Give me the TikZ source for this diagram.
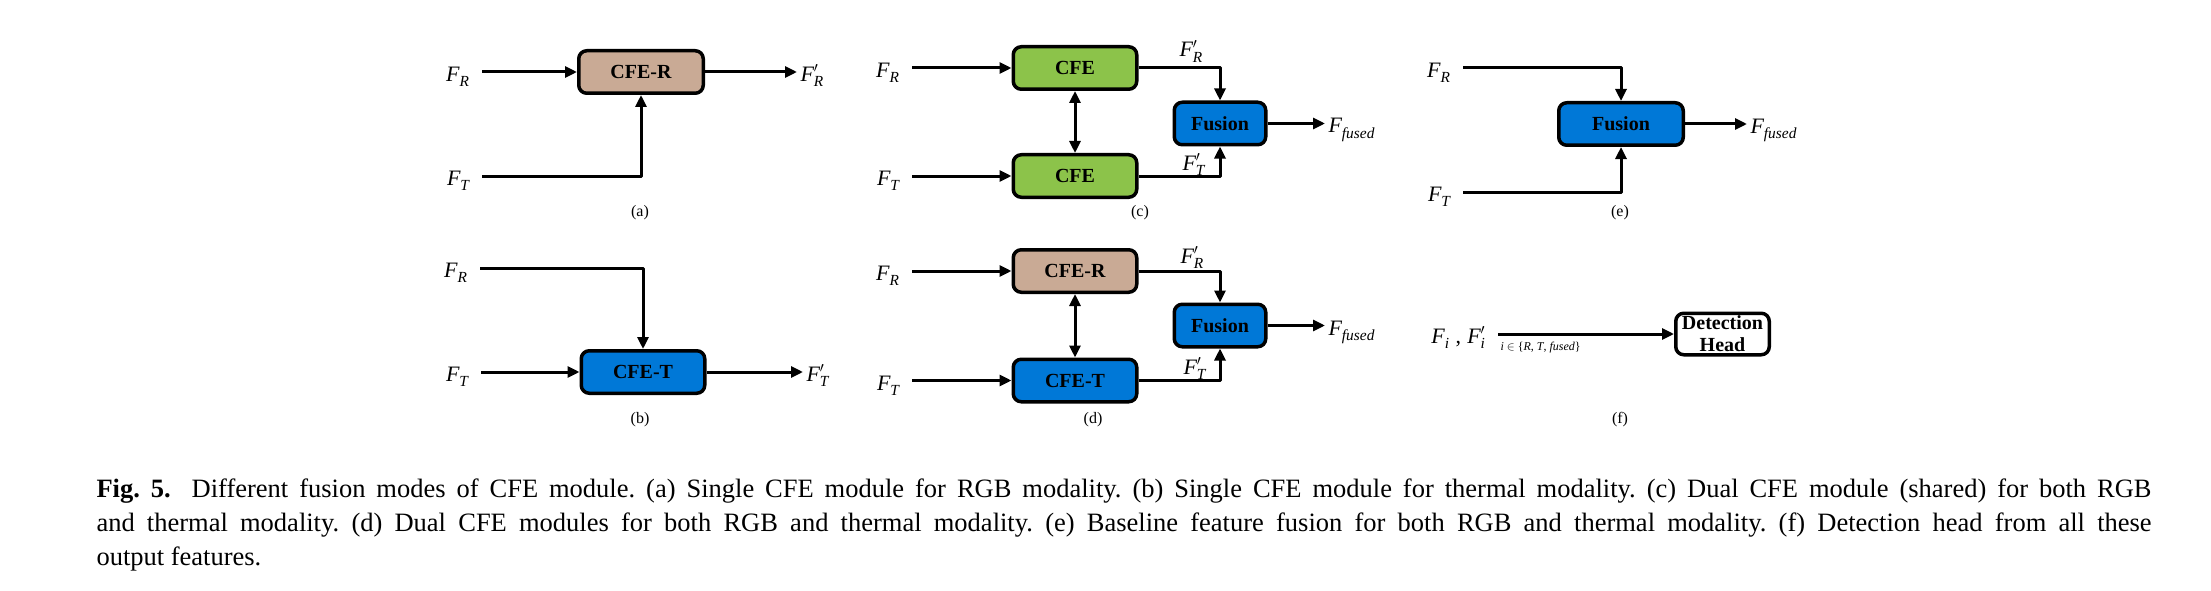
\documentclass[tikz,border=0pt]{standalone}
\usepackage{amsmath}
\usepackage{fontspec}
\setmainfont{Liberation Serif}
\usetikzlibrary{arrows.meta}
\definecolor{cferC}{RGB}{201,170,149}
\definecolor{cfeC}{RGB}{140,195,74}
\definecolor{cfetC}{RGB}{0,120,215}
\newcommand{\feat}[2][]{$\textit{F}^{#1}_{\textit{#2}}$}
\frenchspacing
\begin{document}
\begin{tikzpicture}[x=1pt, y=-1pt, line width=3pt, line join=round, >={Triangle[length=12pt,width=11pt]},
  box/.style={draw, line width=3.5pt, rounded corners=8pt, minimum height=42.5pt, inner sep=2pt, font=\fontsize{20}{22}\selectfont\bfseries},
  srclbl/.style={font=\fontsize{22}{26}\selectfont, text height=19pt, text depth=0pt, inner xsep=11pt, inner ysep=0pt},
  dstlbl/.style={srclbl, inner xsep=2pt},
  sublbl/.style={font=\fontsize{16}{19}\selectfont}]
\useasboundingbox (0,0) rectangle (2211,591);
% (a)
\node[box, fill=cferC, minimum width=124.5pt] (cfer_a) at (641,72) {CFE-R};
\node[srclbl, anchor=east] (fr_a) at (482,72) {\feat{R}};
\node[srclbl, anchor=east] (ft_a) at (482,176) {\feat{T}};
\node[dstlbl, anchor=west] (fro_a) at (797,72) {\feat[\prime]{R}};
\draw[->] (fr_a.east) -- (cfer_a.west);
\draw[->] (cfer_a.east) -- (fro_a.west);
\draw[->] (ft_a.east) -| (cfer_a.south);
\node[sublbl] (lbl_a) at (640,213) {(a)};
% (b)
\node[box, fill=cfetC, minimum width=123.5pt] (cfet_b) at (643,372) {CFE-T};
\node[srclbl, anchor=east] (fr_b) at (480,268) {\feat{R}};
\node[srclbl, anchor=east] (ft_b) at (481,372) {\feat{T}};
\node[dstlbl, anchor=west] (fto_b) at (803,372) {\feat[\prime]{T}};
\draw[->] (fr_b.east) -| (cfet_b.north);
\draw[->] (ft_b.east) -- (cfet_b.west);
\draw[->] (cfet_b.east) -- (fto_b.west);
\node[sublbl] (lbl_b) at (640,420) {(b)};
% (c)
\node[box, fill=cfeC, minimum width=123.5pt] (cfe_c1) at (1075,68) {CFE};
\node[box, fill=cfeC, minimum width=123.5pt] (cfe_c2) at (1075,176) {CFE};
\node[box, fill=cfetC, minimum width=91.5pt] (fus_c) at (1220,123.5) {Fusion};
\node[srclbl, anchor=east] (fr_c) at (912,68) {\feat{R}};
\node[srclbl, anchor=east] (ft_c) at (912,176) {\feat{T}};
\node[dstlbl, anchor=west] (ff_c) at (1325,123.5) {\feat{fused}};
\node[dstlbl, anchor=base west] (fro_c) at (1176,57) {\feat[\prime]{R}};
\node[dstlbl, anchor=base west] (fto_c) at (1179,170) {\feat[\prime]{T}};
\draw[->] (fr_c.east) -- (cfe_c1.west);
\draw[->] (ft_c.east) -- (cfe_c2.west);
\draw[<->] (cfe_c1) -- (cfe_c2);
\draw[->] (cfe_c1.east) -| (fus_c.north);
\draw[->] (cfe_c2.east) -| (fus_c.south);
\draw[->] (fus_c.east) -- (ff_c.west);
\node[sublbl] (lbl_c) at (1140,213) {(c)};
% (d)
\node[box, fill=cferC, minimum width=123.5pt] (cfer_d) at (1075,271) {CFE-R};
\node[box, fill=cfetC, minimum width=123.5pt] (cfet_d) at (1075,380.5) {CFE-T};
\node[box, fill=cfetC, minimum width=91.5pt] (fus_d) at (1220,325.5) {Fusion};
\node[srclbl, anchor=east] (fr_d) at (912,271) {\feat{R}};
\node[srclbl, anchor=east] (ft_d) at (912,380.5) {\feat{T}};
\node[dstlbl, anchor=west] (ff_d) at (1325,325.5) {\feat{fused}};
\node[dstlbl, anchor=base west] (fro_d) at (1177,263) {\feat[\prime]{R}};
\node[dstlbl, anchor=base west] (fto_d) at (1180,374) {\feat[\prime]{T}};
\draw[->] (fr_d.east) -- (cfer_d.west);
\draw[->] (ft_d.east) -- (cfet_d.west);
\draw[<->] (cfer_d) -- (cfet_d);
\draw[->] (cfer_d.east) -| (fus_d.north);
\draw[->] (cfet_d.east) -| (fus_d.south);
\draw[->] (fus_d.east) -- (ff_d.west);
\node[sublbl] (lbl_d) at (1093,420) {(d)};
% (e)
\node[box, fill=cfetC, minimum width=124.5pt] (fus_e) at (1621,124) {Fusion};
\node[srclbl, anchor=east] (fr_e) at (1463,68) {\feat{R}};
\node[srclbl, anchor=east] (ft_e) at (1463,192) {\feat{T}};
\node[dstlbl, anchor=west] (ff_e) at (1747,124) {\feat{fused}};
\draw[->] (fr_e.east) -| (fus_e.north);
\draw[->] (ft_e.east) -| (fus_e.south);
\draw[->] (fus_e.east) -- (ff_e.west);
\node[sublbl] (lbl_e) at (1620,213) {(e)};
% (f)
\node[box, fill=white, minimum width=93.5pt, minimum height=41.5pt, align=center] (det) at (1722.5,334) {Detection\\Head};
\node[srclbl, anchor=east] (fi) at (1498,334) {\feat{i}\;,\;\feat[\prime]{i}};
\node[anchor=north west, inner sep=0pt, font=\fontsize{12}{14}\selectfont] (iset) at (1499,341) {\textit{i} $\in$ \{\textit{R}, \textit{T}, \textit{fused}\}};
\draw[->] (fi.east) -- (det.west);
\node[sublbl] (lbl_f) at (1620,420) {(f)};
% caption
\node[anchor=north west, inner sep=0pt, text width=2055pt, align=justify, font=\fontsize{26.5}{34}\selectfont] (caption) at (95,477)
  {\tolerance=10000\hyphenpenalty=10000 \textbf{Fig. 5.}\hspace{10pt} Different fusion modes of CFE module. (a) Single CFE module for RGB modality. (b) Single CFE module for thermal modality. (c) Dual CFE module (shared) for both RGB\linebreak and thermal modality. (d) Dual CFE modules for both RGB and thermal modality. (e) Baseline feature fusion for both RGB and thermal modality. (f) Detection head from all these\linebreak output features.};
\end{tikzpicture}
\end{document}
